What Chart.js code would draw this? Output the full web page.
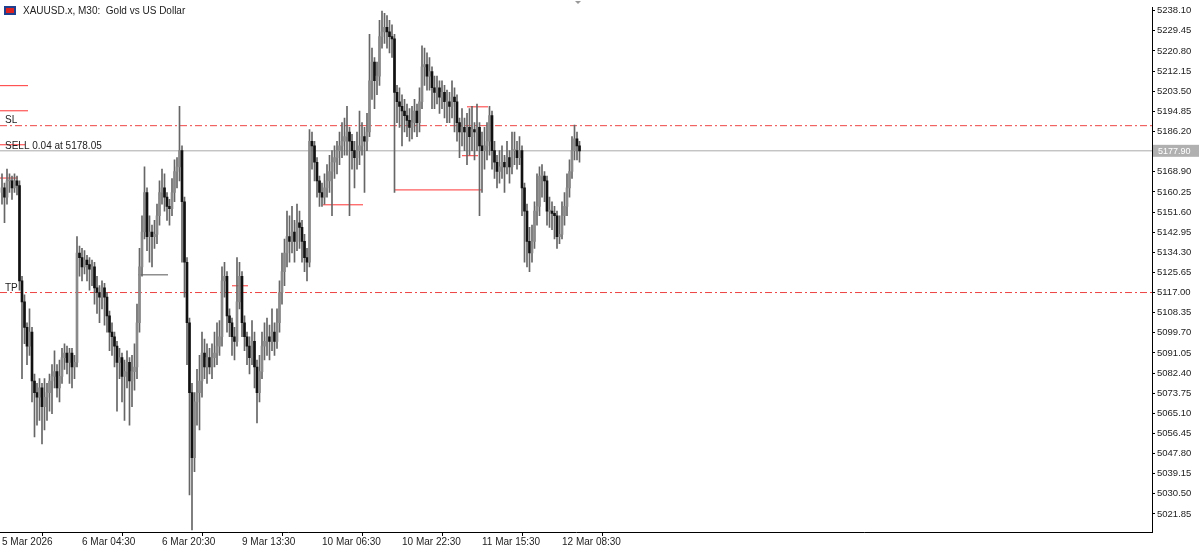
<!DOCTYPE html>
<html>
<head>
<meta charset="utf-8">
<script src="https://cdn.jsdelivr.net/npm/chart.js@4.4.1/dist/chart.umd.min.js"></script>
<style>
  html, body { margin: 0; padding: 0; background: #fff; }
  #wrap { width: 1200px; height: 548px; }
</style>
</head>
<body>
<div id="wrap"><canvas id="c"></canvas></div>
<script>
// XAUUSD M30 bars (price)
const firstOpen = 5160;
const closes = [5162,5158,5165,5165,5162,5165,5163,5122,5113,5102,5094,5100,5079,5074,5072,5076,5068,5072,5074,5079,
  5081,5083,5076,5081,5089,5091,5087,5091,5085,5087,5134,5132,5128,5131,5129,5127,5128,5119,5117,5115,
  5119,5115,5107,5100,5098,5094,5087,5089,5081,5083,5087,5079,5083,5085,5104,5128,5143,5160,5141,5143,
  5141,5142,5150,5160,5162,5158,5154,5153,5160,5169,5171,5178,5156,5130,5104,5074,5046,5070,5074,5079,
  5091,5085,5089,5085,5089,5091,5094,5098,5122,5124,5107,5104,5098,5096,5113,5124,5104,5098,5094,5089,
  5096,5085,5074,5083,5094,5096,5098,5096,5100,5096,5104,5117,5126,5134,5141,5139,5143,5139,5147,5145,
  5139,5132,5130,5182,5180,5173,5165,5160,5158,5162,5165,5169,5173,5175,5178,5180,5182,5184,5186,5182,
  5178,5175,5178,5180,5184,5182,5186,5208,5216,5208,5210,5227,5229,5231,5229,5227,5226,5203,5199,5197,
  5195,5193,5191,5188,5190,5195,5190,5199,5214,5215,5210,5212,5205,5203,5205,5201,5203,5199,5199,5197,
  5201,5199,5190,5186,5188,5186,5188,5184,5187,5186,5188,5180,5178,5180,5182,5193,5178,5173,5169,5171,
  5173,5171,5175,5171,5178,5178,5175,5178,5162,5152,5139,5134,5139,5152,5154,5167,5167,5165,5152,5152,
  5151,5150,5141,5142,5150,5154,5162,5169,5178,5183,5180,5177.9];
const highs = [5168,5164,5170,5168,5167,5168,5167,5165,5124,5116,5104,5110,5102,5082,5078,5080,5078,5080,5078,5082,
  5086,5092,5086,5088,5093,5095,5094,5093,5093,5090,5141,5137,5136,5135,5133,5132,5131,5130,5124,5120,
  5122,5121,5117,5109,5104,5100,5096,5093,5091,5088,5092,5089,5090,5095,5112,5136,5150,5171,5162,5150,
  5146,5148,5155,5165,5170,5168,5160,5157,5166,5174,5175,5197,5180,5158,5132,5106,5078,5074,5084,5090,
  5100,5097,5095,5093,5095,5100,5104,5105,5128,5130,5126,5110,5106,5102,5132,5130,5126,5107,5100,5098,
  5105,5100,5088,5090,5100,5104,5106,5103,5110,5104,5110,5122,5134,5140,5152,5150,5154,5148,5155,5152,
  5148,5142,5136,5187,5186,5182,5175,5167,5164,5168,5172,5176,5178,5180,5182,5186,5190,5192,5197,5188,
  5185,5182,5186,5195,5190,5188,5194,5228,5222,5218,5216,5234,5238,5237,5236,5234,5232,5228,5206,5205,
  5202,5200,5198,5196,5197,5200,5198,5205,5223,5222,5220,5218,5214,5210,5210,5208,5208,5206,5204,5203,
  5208,5205,5202,5192,5196,5192,5194,5196,5197,5190,5198,5190,5186,5188,5190,5197,5195,5182,5176,5178,
  5180,5176,5182,5178,5186,5186,5182,5184,5180,5164,5155,5145,5146,5156,5168,5171,5172,5169,5167,5158,
  5156,5154,5152,5150,5156,5160,5168,5174,5184,5189,5186,5182];
const lows = [5155,5147,5155,5160,5157,5160,5159,5118,5080,5095,5086,5090,5070,5055,5060,5062,5052,5058,5062,5066,
  5065,5076,5072,5070,5078,5084,5082,5078,5076,5080,5085,5124,5122,5125,5122,5118,5120,5112,5108,5104,
  5110,5103,5100,5092,5090,5085,5066,5080,5070,5062,5076,5060,5068,5075,5080,5100,5124,5140,5135,5130,
  5128,5136,5138,5146,5155,5152,5148,5146,5150,5156,5162,5165,5130,5115,5086,5030,5015,5040,5060,5058,
  5072,5080,5078,5082,5080,5085,5086,5090,5094,5115,5100,5098,5090,5088,5094,5110,5098,5092,5086,5082,
  5086,5076,5061,5070,5080,5088,5090,5088,5092,5090,5093,5100,5112,5120,5128,5130,5134,5130,5135,5136,
  5130,5126,5122,5128,5170,5165,5158,5154,5154,5155,5158,5160,5150,5166,5168,5172,5175,5176,5176,5150,
  5170,5162,5170,5172,5176,5160,5178,5184,5200,5196,5202,5206,5222,5224,5222,5220,5218,5160,5190,5188,
  5180,5186,5184,5182,5183,5186,5184,5186,5196,5206,5204,5204,5196,5196,5198,5194,5196,5192,5190,5190,
  5192,5186,5182,5175,5180,5178,5172,5176,5178,5174,5178,5150,5160,5170,5174,5176,5170,5166,5162,5164,
  5166,5160,5168,5164,5168,5172,5170,5172,5150,5130,5128,5126,5130,5136,5146,5150,5158,5156,5146,5145,
  5144,5140,5136,5138,5140,5146,5150,5158,5166,5174,5174,5173];

const yTickLabels = ['5238.10','5229.45','5220.80','5212.15','5203.50','5194.85','5186.20','5177.55','5168.90','5160.25',
  '5151.60','5142.95','5134.30','5125.65','5117.00','5108.35','5099.70','5091.05','5082.40','5073.75',
  '5065.10','5056.45','5047.80','5039.15','5030.50','5021.85'];
const xTickIndex = [0, 32, 64, 96, 128, 160, 192, 224];
const xTickLabels = ['5 Mar 2026','6 Mar 04:30','6 Mar 20:30','9 Mar 13:30','10 Mar 06:30','10 Mar 22:30','11 Mar 15:30','12 Mar 08:30'];

const slPrice = 5188.7;
const tpPrice = 5117.0;
const bidPrice = 5177.90;
// object levels drawn on the chart: [fromBar, toBar, price, colour]
const levelFrom  = [-0.8, -0.8, -0.8, -0.8, 54.4, 92, 128.4, 157.2, 184, 186];
const levelTo    = [10.4, 10.4, 9.2, 6.4, 66.4, 98.4, 144.4, 192, 190.4, 194.4];
const levelPrice = [5205.9, 5195.1, 5180.5, 5166.2, 5124.6, 5119.9, 5154.7, 5161.1, 5175.8, 5196.8];
const levelColor = ['#f33','#f33','#f33','#f33','#555','#f33','#f33','#f33','#f33','#f33'];

const opens = closes.map((c, i) => i === 0 ? firstOpen : closes[i - 1]);
const idx = closes.map((c, i) => i);

const FONT = 'Liberation Sans';
const X_MIN = -0.8, X_MAX = 460;

const wickData = idx.map(i => ({ x: i, y: [lows[i], highs[i]] }));
const bodyData = idx.map(i => ({ x: i, y: [opens[i], closes[i]] }));
const bodyColors = idx.map(i => closes[i] >= opens[i] ? '#8a8a8a' : '#111');

function hline(price, color, dash, from, to) {
  return {
    type: 'line',
    data: [{ x: from, y: price }, { x: to, y: price }],
    borderColor: color, borderWidth: 1, borderDash: dash,
    pointRadius: 0, fill: false, order: 5
  };
}

const datasets = [
  hline(slPrice, '#e44', [7, 3, 2, 3], X_MIN, X_MAX),
  hline(tpPrice, '#e44', [7, 3, 2, 3], X_MIN, X_MAX),
  hline(bidPrice, '#aaa', [], X_MIN, X_MAX),
];
levelPrice.forEach((p, k) => datasets.push(hline(p, levelColor[k], [], levelFrom[k], levelTo[k])));
datasets.push({
  type: 'bar', data: wickData, backgroundColor: '#666', barThickness: 1, grouped: false, order: 2
});
datasets.push({
  type: 'bar', data: bodyData, backgroundColor: bodyColors, barThickness: 2, minBarLength: 1, grouped: false, order: 1
});

const overlay = {
  id: 'overlay',
  afterDraw(chart) {
    const ctx = chart.ctx, y = chart.scales.y, a = chart.chartArea;
    ctx.save();
    ctx.font = '10px ' + FONT;
    ctx.fillStyle = '#222';
    ctx.textBaseline = 'middle';
    ctx.fillText('SL', 5, y.getPixelForValue(slPrice) - 5);
    ctx.fillText('SELL 0.04 at 5178.05', 5, y.getPixelForValue(bidPrice) - 5);
    ctx.fillText('TP', 5, y.getPixelForValue(tpPrice) - 4);
    // title
    ctx.fillStyle = '#1f3f8f'; ctx.fillRect(4, 6, 12, 9);
    ctx.fillStyle = '#d22'; ctx.fillRect(6, 8, 8, 5);
    ctx.fillStyle = '#222';
    ctx.fillText('XAUUSD.x, M30:  Gold vs US Dollar', 23, 11);
    // small marker at top
    ctx.fillStyle = '#999';
    ctx.beginPath(); ctx.moveTo(575, 1); ctx.lineTo(581, 1); ctx.lineTo(578, 4); ctx.fill();
    // bid label
    const py = y.getPixelForValue(bidPrice);
    ctx.fillStyle = '#b0b0b0';
    ctx.fillRect(a.right + 1, py - 6, 46, 12);
    ctx.fillStyle = '#fff';
    ctx.font = '9px ' + FONT;
    ctx.fillText('5177.90', a.right + 6, py + 0.5);
    ctx.restore();
  }
};

new Chart(document.getElementById('c'), {
  data: { datasets },
  plugins: [overlay],
  options: {
    responsive: true, maintainAspectRatio: false, animation: false,
    layout: { padding: { left: 0, top: 0, right: 0, bottom: 0 } },
    plugins: { legend: { display: false }, tooltip: { enabled: false } },
    scales: {
      x: {
        type: 'linear', min: X_MIN, max: X_MAX, offset: false,
        afterBuildTicks: s => { s.ticks = xTickIndex.map(v => ({ value: v })); },
        afterFit: s => { s.height = 16; },
        grid: { drawOnChartArea: false, tickLength: 4, color: '#000' },
        border: { color: '#000' },
        ticks: {
          autoSkip: false, maxRotation: 0, align: 'start', padding: 0,
          color: '#222', font: { family: FONT, size: 10 },
          callback: v => xTickLabels[xTickIndex.indexOf(v)] || ''
        }
      },
      y: {
        position: 'right', min: 5014.1, max: 5239.4,
        afterBuildTicks: s => { s.ticks = yTickLabels.map(t => ({ value: parseFloat(t) })); },
        afterFit: s => { s.width = 48; },
        grid: { drawOnChartArea: false, tickLength: 3, color: '#000' },
        border: { color: '#000' },
        ticks: {
          autoSkip: false, padding: 2, color: '#222', font: { family: FONT, size: 9.5 },
          callback: v => v.toFixed(2)
        }
      }
    }
  }
});
</script>
</body>
</html>
